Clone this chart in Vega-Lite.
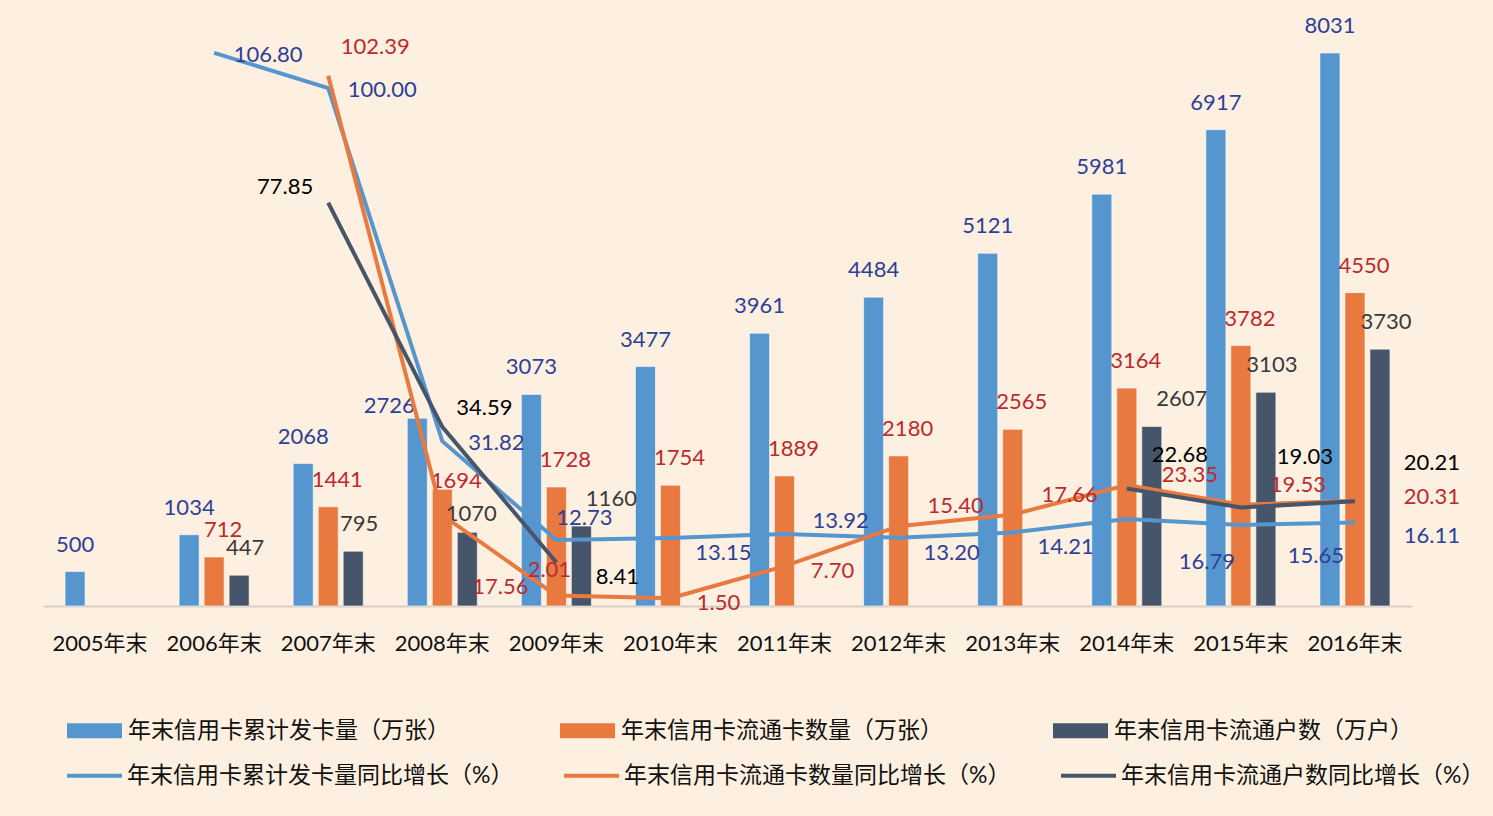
{
  "$schema": "https://vega.github.io/schema/vega-lite/v6.json",
  "width": 1369,
  "height": 606,
  "autosize": {"type": "none"},
  "padding": {"left": 43, "top": 0, "right": 81, "bottom": 210},
  "background": "#fdf0e0",
  "config": {
    "view": {"stroke": null},
    "font": "Lato, Noto Sans CJK SC",
    "text": {"font": "Lato, Noto Sans CJK SC", "fontSize": 22, "baseline": "middle", "align": "center"}
  },
  "datasets": {
    "bars": [
      {"year": "2005年末", "series": "年末信用卡累计发卡量（万张）", "value": 500},
      {"year": "2006年末", "series": "年末信用卡累计发卡量（万张）", "value": 1034},
      {"year": "2006年末", "series": "年末信用卡流通卡数量（万张）", "value": 712},
      {"year": "2006年末", "series": "年末信用卡流通户数（万户）", "value": 447},
      {"year": "2007年末", "series": "年末信用卡累计发卡量（万张）", "value": 2068},
      {"year": "2007年末", "series": "年末信用卡流通卡数量（万张）", "value": 1441},
      {"year": "2007年末", "series": "年末信用卡流通户数（万户）", "value": 795},
      {"year": "2008年末", "series": "年末信用卡累计发卡量（万张）", "value": 2726},
      {"year": "2008年末", "series": "年末信用卡流通卡数量（万张）", "value": 1694},
      {"year": "2008年末", "series": "年末信用卡流通户数（万户）", "value": 1070},
      {"year": "2009年末", "series": "年末信用卡累计发卡量（万张）", "value": 3073},
      {"year": "2009年末", "series": "年末信用卡流通卡数量（万张）", "value": 1728},
      {"year": "2009年末", "series": "年末信用卡流通户数（万户）", "value": 1160},
      {"year": "2010年末", "series": "年末信用卡累计发卡量（万张）", "value": 3477},
      {"year": "2010年末", "series": "年末信用卡流通卡数量（万张）", "value": 1754},
      {"year": "2011年末", "series": "年末信用卡累计发卡量（万张）", "value": 3961},
      {"year": "2011年末", "series": "年末信用卡流通卡数量（万张）", "value": 1889},
      {"year": "2012年末", "series": "年末信用卡累计发卡量（万张）", "value": 4484},
      {"year": "2012年末", "series": "年末信用卡流通卡数量（万张）", "value": 2180},
      {"year": "2013年末", "series": "年末信用卡累计发卡量（万张）", "value": 5121},
      {"year": "2013年末", "series": "年末信用卡流通卡数量（万张）", "value": 2565},
      {"year": "2014年末", "series": "年末信用卡累计发卡量（万张）", "value": 5981},
      {"year": "2014年末", "series": "年末信用卡流通卡数量（万张）", "value": 3164},
      {"year": "2014年末", "series": "年末信用卡流通户数（万户）", "value": 2607},
      {"year": "2015年末", "series": "年末信用卡累计发卡量（万张）", "value": 6917},
      {"year": "2015年末", "series": "年末信用卡流通卡数量（万张）", "value": 3782},
      {"year": "2015年末", "series": "年末信用卡流通户数（万户）", "value": 3103},
      {"year": "2016年末", "series": "年末信用卡累计发卡量（万张）", "value": 8031},
      {"year": "2016年末", "series": "年末信用卡流通卡数量（万张）", "value": 4550},
      {"year": "2016年末", "series": "年末信用卡流通户数（万户）", "value": 3730}
    ],
    "lines": [
      {"year": "2006年末", "series": "年末信用卡累计发卡量同比增长（%）", "rate": 106.80},
      {"year": "2007年末", "series": "年末信用卡累计发卡量同比增长（%）", "rate": 100.00},
      {"year": "2008年末", "series": "年末信用卡累计发卡量同比增长（%）", "rate": 31.82},
      {"year": "2009年末", "series": "年末信用卡累计发卡量同比增长（%）", "rate": 12.73},
      {"year": "2010年末", "series": "年末信用卡累计发卡量同比增长（%）", "rate": 13.15},
      {"year": "2011年末", "series": "年末信用卡累计发卡量同比增长（%）", "rate": 13.92},
      {"year": "2012年末", "series": "年末信用卡累计发卡量同比增长（%）", "rate": 13.20},
      {"year": "2013年末", "series": "年末信用卡累计发卡量同比增长（%）", "rate": 14.21},
      {"year": "2014年末", "series": "年末信用卡累计发卡量同比增长（%）", "rate": 16.79},
      {"year": "2015年末", "series": "年末信用卡累计发卡量同比增长（%）", "rate": 15.65},
      {"year": "2016年末", "series": "年末信用卡累计发卡量同比增长（%）", "rate": 16.11},
      {"year": "2007年末", "series": "年末信用卡流通卡数量同比增长（%）", "rate": 102.39},
      {"year": "2008年末", "series": "年末信用卡流通卡数量同比增长（%）", "rate": 17.56},
      {"year": "2009年末", "series": "年末信用卡流通卡数量同比增长（%）", "rate": 2.01},
      {"year": "2010年末", "series": "年末信用卡流通卡数量同比增长（%）", "rate": 1.50},
      {"year": "2011年末", "series": "年末信用卡流通卡数量同比增长（%）", "rate": 7.70},
      {"year": "2012年末", "series": "年末信用卡流通卡数量同比增长（%）", "rate": 15.40},
      {"year": "2013年末", "series": "年末信用卡流通卡数量同比增长（%）", "rate": 17.66},
      {"year": "2014年末", "series": "年末信用卡流通卡数量同比增长（%）", "rate": 23.35},
      {"year": "2015年末", "series": "年末信用卡流通卡数量同比增长（%）", "rate": 19.53},
      {"year": "2016年末", "series": "年末信用卡流通卡数量同比增长（%）", "rate": 20.31},
      {"year": "2007年末", "series": "年末信用卡流通户数同比增长（%）", "rate": 77.85},
      {"year": "2008年末", "series": "年末信用卡流通户数同比增长（%）", "rate": 34.59},
      {"year": "2009年末", "series": "年末信用卡流通户数同比增长（%）", "rate": 8.41},
      {"year": "2010年末", "series": "年末信用卡流通户数同比增长（%）", "rate": null},
      {"year": "2011年末", "series": "年末信用卡流通户数同比增长（%）", "rate": null},
      {"year": "2012年末", "series": "年末信用卡流通户数同比增长（%）", "rate": null},
      {"year": "2013年末", "series": "年末信用卡流通户数同比增长（%）", "rate": null},
      {"year": "2014年末", "series": "年末信用卡流通户数同比增长（%）", "rate": 22.68},
      {"year": "2015年末", "series": "年末信用卡流通户数同比增长（%）", "rate": 19.03},
      {"year": "2016年末", "series": "年末信用卡流通户数同比增长（%）", "rate": 20.21}
    ]
  },
  "resolve": {"scale": {"y": "independent"}},
  "layer": [
    {
      "data": {"name": "bars"},
      "encoding": {
        "x": {
          "field": "year", "type": "nominal",
          "scale": {"domain": ["2005年末","2006年末","2007年末","2008年末","2009年末","2010年末","2011年末","2012年末","2013年末","2014年末","2015年末","2016年末"], "paddingInner": 0.3864, "paddingOuter": 0.1932},
          "axis": {"title": null, "labelAngle": 0, "ticks": false, "grid": false, "domainColor": "#d6cfc6", "domainWidth": 2, "labelFontSize": 22, "labelPadding": 27, "labelColor": "#111111", "labelFont": "Lato, Noto Sans CJK SC"}
        },
        "xOffset": {
          "field": "series", "type": "nominal",
          "scale": {"domain": ["年末信用卡累计发卡量（万张）","年末信用卡流通卡数量（万张）","年末信用卡流通户数（万户）"], "paddingInner": 0.2, "paddingOuter": 0}
        },
        "y": {"field": "value", "type": "quantitative", "scale": {"domain": [0, 8800], "nice": false, "zero": true}, "axis": null}
      },
      "layer": [
        {
          "mark": {"type": "bar", "stroke": "#ffffff", "strokeWidth": 0.8, "strokeOpacity": 0.7},
          "encoding": {
            "fill": {
              "field": "series", "type": "nominal",
              "scale": {"domain": ["年末信用卡累计发卡量（万张）","年末信用卡流通卡数量（万张）","年末信用卡流通户数（万户）"], "range": ["#5596cf","#e8793f","#47556b"]},
              "legend": {"title": null, "orient": "none", "legendX": 24, "legendY": 703, "direction": "horizontal", "columns": 3, "columnPadding": 110, "symbolType": "M-1,-0.27H1V0.27H-1Z", "symbolSize": 3025, "symbolStrokeWidth": 0, "symbolOpacity": 1, "labelFontSize": 23, "labelOffset": 6, "labelLimit": 600, "labelColor": "#111111", "labelFont": "Lato, Noto Sans CJK SC", "padding": 0}
            }
          }
        },
        {
          "transform": [{"filter": {"field": "series", "equal": "年末信用卡累计发卡量（万张）"}}, {"filter": {"not": {"field": "year", "equal": "2008年末"}}}],
          "mark": {"type": "text", "dy": -27, "color": "#2e3f98"},
          "encoding": {"text": {"field": "value", "type": "quantitative", "format": "d"}}
        },
        {
          "transform": [{"filter": {"field": "series", "equal": "年末信用卡累计发卡量（万张）"}}, {"filter": {"field": "year", "equal": "2008年末"}}],
          "mark": {"type": "text", "dy": -12, "dx": -28, "color": "#2e3f98"},
          "encoding": {"text": {"field": "value", "type": "quantitative", "format": "d"}}
        },
        {
          "transform": [{"filter": {"field": "series", "equal": "年末信用卡流通卡数量（万张）"}}, {"filter": {"not": {"field": "year", "equal": "2008年末"}}}],
          "mark": {"type": "text", "dy": -27, "dx": 9, "color": "#bd2a2e"},
          "encoding": {"text": {"field": "value", "type": "quantitative", "format": "d"}}
        },
        {
          "transform": [{"filter": {"field": "series", "equal": "年末信用卡流通卡数量（万张）"}}, {"filter": {"field": "year", "equal": "2008年末"}}],
          "mark": {"type": "text", "dy": -8, "dx": 14, "color": "#bd2a2e"},
          "encoding": {"text": {"field": "value", "type": "quantitative", "format": "d"}}
        },
        {
          "transform": [{"filter": {"field": "series", "equal": "年末信用卡流通户数（万户）"}}, {"filter": {"field": "year", "oneOf": ["2006年末","2007年末","2015年末","2016年末"]}}],
          "mark": {"type": "text", "dy": -27, "dx": 6, "color": "#3a3a3a"},
          "encoding": {"text": {"field": "value", "type": "quantitative", "format": "d"}}
        },
        {
          "transform": [{"filter": {"field": "series", "equal": "年末信用卡流通户数（万户）"}}, {"filter": {"field": "year", "equal": "2008年末"}}],
          "mark": {"type": "text", "dy": -18, "dx": 4, "color": "#3a3a3a"},
          "encoding": {"text": {"field": "value", "type": "quantitative", "format": "d"}}
        },
        {
          "transform": [{"filter": {"field": "series", "equal": "年末信用卡流通户数（万户）"}}, {"filter": {"field": "year", "oneOf": ["2009年末","2014年末"]}}],
          "mark": {"type": "text", "dy": -27, "dx": 30, "color": "#3a3a3a"},
          "encoding": {"text": {"field": "value", "type": "quantitative", "format": "d"}}
        }
      ]
    },
    {
      "data": {"name": "lines"},
      "encoding": {
        "x": {"field": "year", "type": "nominal"},
        "y": {"field": "rate", "type": "quantitative", "scale": {"domain": [0, 117], "nice": false, "zero": true}, "axis": null},
        "text": {"field": "rate", "type": "quantitative", "format": ".2f"}
      },
      "layer": [
        {
          "mark": {"type": "line", "strokeWidth": 4, "invalid": "break-paths-filter-domains"},
          "encoding": {
            "stroke": {
              "field": "series", "type": "nominal",
              "scale": {"domain": ["年末信用卡累计发卡量同比增长（%）","年末信用卡流通卡数量同比增长（%）","年末信用卡流通户数同比增长（%）"], "range": ["#5596cf","#e8793f","#47556b"]},
              "legend": {"title": null, "orient": "none", "legendX": 22, "legendY": 746, "direction": "horizontal", "columns": 3, "columnPadding": 42, "symbolType": "stroke", "symbolSize": 3025, "symbolStrokeWidth": 4, "labelFontSize": 23, "labelOffset": 3, "labelLimit": 600, "labelColor": "#111111", "labelFont": "Lato, Noto Sans CJK SC", "padding": 0}
            }
          }
        },
        {"transform": [{"filter": {"field": "series", "equal": "年末信用卡累计发卡量同比增长（%）"}}, {"filter": {"field": "year", "oneOf": ["2006年末","2007年末","2008年末"]}}], "mark": {"type": "text", "dx": 54, "dy": 2, "color": "#2e3f98"}},
        {"transform": [{"filter": {"field": "series", "equal": "年末信用卡累计发卡量同比增长（%）"}}, {"filter": {"field": "year", "equal": "2009年末"}}], "mark": {"type": "text", "dx": 28, "dy": -22, "color": "#2e3f98"}},
        {"transform": [{"filter": {"field": "series", "equal": "年末信用卡累计发卡量同比增长（%）"}}, {"filter": {"field": "year", "oneOf": ["2010年末","2012年末","2013年末"]}}], "mark": {"type": "text", "dx": 53, "dy": 15, "color": "#2e3f98"}},
        {"transform": [{"filter": {"field": "series", "equal": "年末信用卡累计发卡量同比增长（%）"}}, {"filter": {"field": "year", "equal": "2011年末"}}], "mark": {"type": "text", "dx": 56, "dy": -13, "color": "#2e3f98"}},
        {"transform": [{"filter": {"field": "series", "equal": "年末信用卡累计发卡量同比增长（%）"}}, {"filter": {"field": "year", "equal": "2014年末"}}], "mark": {"type": "text", "dx": 80, "dy": 43, "color": "#2e3f98"}},
        {"transform": [{"filter": {"field": "series", "equal": "年末信用卡累计发卡量同比增长（%）"}}, {"filter": {"field": "year", "equal": "2015年末"}}], "mark": {"type": "text", "dx": 75, "dy": 31, "color": "#2e3f98"}},
        {"transform": [{"filter": {"field": "series", "equal": "年末信用卡累计发卡量同比增长（%）"}}, {"filter": {"field": "year", "equal": "2016年末"}}], "mark": {"type": "text", "dx": 77, "dy": 13, "color": "#2e3f98"}},
        {"transform": [{"filter": {"field": "series", "equal": "年末信用卡流通卡数量同比增长（%）"}}, {"filter": {"field": "year", "equal": "2007年末"}}], "mark": {"type": "text", "dx": 47, "dy": -29, "color": "#bd2a2e"}},
        {"transform": [{"filter": {"field": "series", "equal": "年末信用卡流通卡数量同比增长（%）"}}, {"filter": {"field": "year", "equal": "2008年末"}}], "mark": {"type": "text", "dx": 58, "dy": 72, "color": "#bd2a2e"}},
        {"transform": [{"filter": {"field": "series", "equal": "年末信用卡流通卡数量同比增长（%）"}}, {"filter": {"field": "year", "equal": "2009年末"}}], "mark": {"type": "text", "dx": -7, "dy": -26, "color": "#bd2a2e"}},
        {"transform": [{"filter": {"field": "series", "equal": "年末信用卡流通卡数量同比增长（%）"}}, {"filter": {"field": "year", "oneOf": ["2010年末","2011年末"]}}], "mark": {"type": "text", "dx": 48, "dy": 5, "color": "#bd2a2e"}},
        {"transform": [{"filter": {"field": "series", "equal": "年末信用卡流通卡数量同比增长（%）"}}, {"filter": {"field": "year", "oneOf": ["2012年末","2013年末","2015年末"]}}], "mark": {"type": "text", "dx": 57, "dy": -20, "color": "#bd2a2e"}},
        {"transform": [{"filter": {"field": "series", "equal": "年末信用卡流通卡数量同比增长（%）"}}, {"filter": {"field": "year", "equal": "2014年末"}}], "mark": {"type": "text", "dx": 63, "dy": -10, "color": "#bd2a2e"}},
        {"transform": [{"filter": {"field": "series", "equal": "年末信用卡流通卡数量同比增长（%）"}}, {"filter": {"field": "year", "equal": "2016年末"}}], "mark": {"type": "text", "dx": 77, "dy": -4, "color": "#bd2a2e"}},
        {"transform": [{"filter": {"field": "series", "equal": "年末信用卡流通户数同比增长（%）"}}, {"filter": {"field": "year", "equal": "2007年末"}}], "mark": {"type": "text", "dx": -43, "dy": -16, "color": "#000000"}},
        {"transform": [{"filter": {"field": "series", "equal": "年末信用卡流通户数同比增长（%）"}}, {"filter": {"field": "year", "equal": "2008年末"}}], "mark": {"type": "text", "dx": 42, "dy": -19, "color": "#000000"}},
        {"transform": [{"filter": {"field": "series", "equal": "年末信用卡流通户数同比增长（%）"}}, {"filter": {"field": "year", "equal": "2009年末"}}], "mark": {"type": "text", "dx": 61, "dy": 15, "color": "#000000"}},
        {"transform": [{"filter": {"field": "series", "equal": "年末信用卡流通户数同比增长（%）"}}, {"filter": {"field": "year", "equal": "2014年末"}}], "mark": {"type": "text", "dx": 53, "dy": -34, "color": "#000000"}},
        {"transform": [{"filter": {"field": "series", "equal": "年末信用卡流通户数同比增长（%）"}}, {"filter": {"field": "year", "equal": "2015年末"}}], "mark": {"type": "text", "dx": 64, "dy": -50, "color": "#000000"}},
        {"transform": [{"filter": {"field": "series", "equal": "年末信用卡流通户数同比增长（%）"}}, {"filter": {"field": "year", "equal": "2016年末"}}], "mark": {"type": "text", "dx": 77, "dy": -38, "color": "#000000"}}
      ]
    }
  ]
}
